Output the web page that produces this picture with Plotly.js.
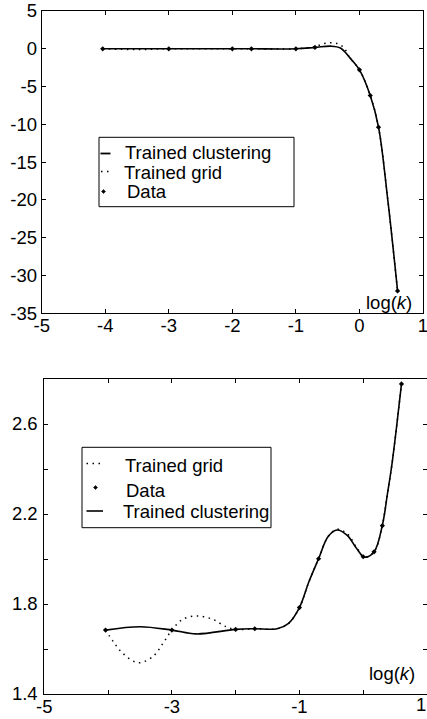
<!DOCTYPE html>
<html>
<head>
<meta charset="utf-8">
<script src="https://cdn.plot.ly/plotly-3.0.1.min.js"></script>
<style>html,body{margin:0;padding:0;background:#fff;}#chart{width:427px;height:719px;}</style>
</head>
<body>
<div id="chart"></div>
<script>
// ---- Top panel data ----
var topDataX = [-4.04, -3, -2, -1.7, -1, -0.7, 0, 0.17, 0.3, 0.6];
var topDataY = [0, 0, 0, 0, 0, 0.18, -2.78, -6.18, -10.37, -32.04];

var topClusterX = [-4.04, -3, -2, -1.7, -1, -0.7, -0.45, -0.3, -0.15, 0, 0.17, 0.3, 0.45, 0.6];
var topClusterY = [0, 0, 0, 0, 0, 0.18, 0.35, 0.1, -1.2, -2.78, -6.18, -10.37, -20.3, -32.04];

var topGridX = [-4.04, -3.5, -3, -2, -1.7, -1, -0.7, -0.55, -0.45, -0.35, -0.25, -0.15, 0, 0.17, 0.3, 0.45, 0.6];
var topGridY = [0, -0.1, 0, 0, 0, 0, 0.3, 0.7, 0.8, 0.7, 0.2, -1.2, -2.78, -6.18, -10.37, -20.3, -32.04];

// ---- Bottom panel data ----
var botDataX = [-4.04, -3, -2, -1.7, -1, -0.7, 0, 0.17, 0.3, 0.6];
var botDataY = [1.684, 1.684, 1.687, 1.690, 1.784, 2.001, 2.010, 2.032, 2.148, 2.778];

var botClusterX = [-4.04, -3.5, -3, -2.62, -2, -1.7, -1.35, -1.17, -1, -0.85, -0.7, -0.55, -0.41, -0.25, -0.1, 0.02, 0.17, 0.3, 0.38, 0.45, 0.52, 0.6];
var botClusterY = [1.684, 1.699, 1.684, 1.667, 1.687, 1.690, 1.690, 1.714, 1.784, 1.90, 2.001, 2.10, 2.129, 2.105, 2.045, 2.008, 2.032, 2.150, 2.29, 2.42, 2.58, 2.778];

var botGridX = [-4.04, -3.92, -3.77, -3.53, -3.3, -3.14, -3, -2.83, -2.6, -2.36, -2.15, -2, -1.7, -1.35, -1.17, -1, -0.85, -0.7, -0.55, -0.41, -0.25, -0.1, 0.02, 0.17, 0.3, 0.38, 0.45, 0.52, 0.6];
var botGridY = [1.684, 1.633, 1.581, 1.539, 1.566, 1.625, 1.684, 1.732, 1.747, 1.732, 1.699, 1.687, 1.690, 1.690, 1.714, 1.784, 1.90, 2.001, 2.10, 2.132, 2.112, 2.05, 2.008, 2.032, 2.150, 2.29, 2.42, 2.58, 2.778];

// ---- Tick labels ----
var topXTicks = [-5, -4, -3, -2, -1, 0, 1];
var topXText = ['-5', '-4', '-3', '-2', '-1', '0', '1'];
var topYTicks = [5, 0, -5, -10, -15, -20, -25, -30, -35];
var topYText = ['5', '0', '-5', '-10', '-15', '-20', '-25', '-30', '-35'];
var botXTicks = [-5, -4, -3, -2, -1, 0, 1];
var botXText = ['-5', '', '-3', '', '-1', '', ''];
var botXEdgeLabel = '1';   // last bottom x label, drawn at the page edge
var botYTicks = [1.4, 1.6, 1.8, 2.0, 2.2, 2.4, 2.6, 2.8];
var botYText = ['1.4', '', '1.8', '', '2.2', '', '2.6', ''];

var names = {cl: 'Trained clustering', gr: 'Trained grid', da: 'Data'};

var W = 427, H = 719;
function PX(p) { return p / W; }
function PY(p) { return 1 - p / H; }

var FONT = 'Liberation Sans, Arial, Helvetica, sans-serif';
var FS = 18.5;
var DOT = '1.5px,4.5px';

var traces = [
  {x: topGridX, y: topGridY, xaxis: 'x', yaxis: 'y', mode: 'lines', name: names.gr,
   line: {color: 'black', width: 1.5, dash: DOT, shape: 'spline', smoothing: 1}, showlegend: false},
  {x: topClusterX, y: topClusterY, xaxis: 'x', yaxis: 'y', mode: 'lines', name: names.cl,
   line: {color: 'black', width: 1.6, shape: 'spline', smoothing: 1}, showlegend: false},
  {x: topDataX, y: topDataY, xaxis: 'x', yaxis: 'y', mode: 'markers', name: names.da,
   marker: {color: 'black', size: 4, symbol: 'diamond'}, showlegend: false},
  {x: botGridX, y: botGridY, xaxis: 'x2', yaxis: 'y2', mode: 'lines', name: names.gr,
   line: {color: 'black', width: 1.5, dash: DOT, shape: 'spline', smoothing: 1}, showlegend: false},
  {x: botClusterX, y: botClusterY, xaxis: 'x2', yaxis: 'y2', mode: 'lines', name: names.cl,
   line: {color: 'black', width: 1.6, shape: 'spline', smoothing: 1}, showlegend: false},
  {x: botDataX, y: botDataY, xaxis: 'x2', yaxis: 'y2', mode: 'markers', name: names.da,
   marker: {color: 'black', size: 4, symbol: 'diamond'}, showlegend: false}
];

function axisBase() {
  return {
    showline: true, linecolor: 'black', linewidth: 1, mirror: 'ticks',
    ticks: 'inside', ticklen: 4, tickwidth: 1, tickcolor: 'black',
    showgrid: false, zeroline: false, fixedrange: true,
    tickfont: {family: FONT, size: FS, color: 'black'},
    tickmode: 'array', ticklabeloverflow: 'allow'
  };
}

var xa = axisBase(); Object.assign(xa, {domain: [PX(41.7), PX(423)], range: [-5, 1], tickvals: topXTicks, ticktext: topXText, anchor: 'y', ticklabelstandoff: -5});
var ya = axisBase(); Object.assign(ya, {domain: [PY(313.3), PY(11)], range: [-35, 5], tickvals: topYTicks, ticktext: topYText, anchor: 'x'});
var xa2 = axisBase(); Object.assign(xa2, {domain: [PX(44.3), 1], range: [-5, 1], tickvals: botXTicks, ticktext: botXText, anchor: 'y2', ticklabelstandoff: -4});
var ya2 = axisBase(); Object.assign(ya2, {domain: [PY(694), PY(379)], range: [1.4, 2.8], tickvals: botYTicks, ticktext: botYText, anchor: 'x2', ticklabelstandoff: 2});

function txt(text, x, y, anchor) {
  return {text: text, x: PX(x), y: PY(y), xref: 'paper', yref: 'paper', xanchor: anchor || 'left', yanchor: 'middle',
          showarrow: false, font: {family: FONT, size: FS, color: 'black'}, borderpad: 0};
}
function box(x0, y0, x1, y1) {
  return {type: 'rect', xref: 'paper', yref: 'paper', x0: PX(x0), x1: PX(x1), y0: PY(y0), y1: PY(y1),
          line: {color: 'black', width: 1}, fillcolor: 'white', layer: 'above'};
}
function seg(x0, x1, y, dash, w) {
  return {type: 'line', xref: 'paper', yref: 'paper', x0: PX(x0), x1: PX(x1), y0: PY(y), y1: PY(y),
          line: {color: 'black', width: w, dash: dash}, layer: 'above'};
}
function dia(x, y, r) {
  var p = 'M' + PX(x - r) + ',' + PY(y) + ' L' + PX(x) + ',' + PY(y - r) + ' L' + PX(x + r) + ',' + PY(y) + ' L' + PX(x) + ',' + PY(y + r) + ' Z';
  return {type: 'path', xref: 'paper', yref: 'paper', path: p, fillcolor: 'black', line: {color: 'black', width: 0.5}, layer: 'above'};
}

var shapes = [
  box(99, 137.3, 294, 206.7),
  seg(100.5, 110.5, 153.5, 'solid', 1.8),
  seg(101, 109, 171.5, DOT, 1.5),
  dia(103.5, 191.5, 2),
  box(82, 447.3, 271, 527.7),
  seg(86.5, 101, 463.5, DOT, 1.5),
  dia(95.5, 487.5, 2),
  seg(86.5, 103, 511, 'solid', 1.6)
];

var annotations = [
  txt(names.cl, 124, 152.7),
  txt(names.gr, 122.5, 172.7),
  txt(names.da, 125.5, 191.7),
  txt(names.gr, 123.5, 465.5),
  txt(names.da, 125, 490),
  txt(names.cl, 121.7, 511.7),
  txt('log(<i>k</i>)', 365, 303),
  txt('log(<i>k</i>)', 367.5, 673),
  txt(botXEdgeLabel, 427, 704, 'right')
];

var layout = {
  width: W, height: H,
  margin: {l: 0, r: 0, t: 0, b: 0, pad: 0},
  paper_bgcolor: 'white', plot_bgcolor: 'white',
  showlegend: false,
  xaxis: xa, yaxis: ya, xaxis2: xa2, yaxis2: ya2,
  shapes: shapes, annotations: annotations,
  font: {family: FONT, size: FS, color: 'black'}
};

Plotly.newPlot('chart', traces, layout, {displayModeBar: false, staticPlot: true});
</script>
</body>
</html>
